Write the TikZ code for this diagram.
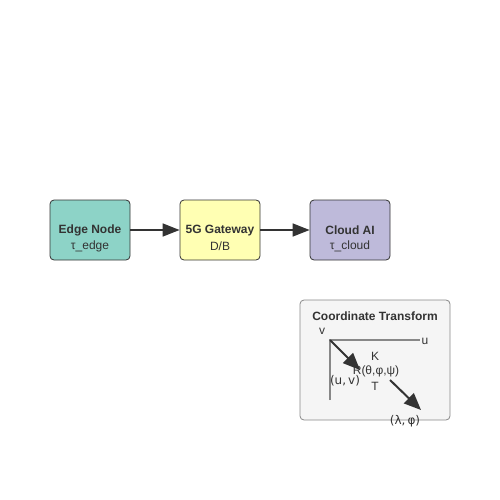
\documentclass[tikz,border=0pt]{standalone}
\usepackage{fontspec}
\setmainfont{Liberation Sans}
\newfontfamily\djv{DejaVu Sans}
\usetikzlibrary{arrows.meta}
\definecolor{txt}{HTML}{333333}
\definecolor{cA}{HTML}{8DD3C7}
\definecolor{cB}{HTML}{FFFFB3}
\definecolor{cC}{HTML}{BEBADA}
\definecolor{panel}{HTML}{F5F5F5}
\definecolor{axis}{HTML}{888888}
\begin{document}
\begin{tikzpicture}[x=1pt,y=-1pt,
  blk/.style={draw=txt, line width=0.8pt, rounded corners=4pt, minimum width=80pt, minimum height=60pt, inner sep=0pt},
  flow/.style={draw=txt, line width=1.6pt, -{Triangle[length=17pt,width=13pt]}},
  tarrow/.style={draw=txt, line width=2pt, -{Triangle[length=17pt,width=14pt]}},
  lbl/.style={text=txt, inner sep=0pt, font=\fontsize{12}{14}\selectfont},
  blbl/.style={lbl, font=\bfseries\fontsize{12}{14}\selectfont}]
\useasboundingbox (0,0) rectangle (500,500);
\node[blk, fill=cA] (edge) at (90,230) {};
\node[blk, fill=cB] (gw) at (220,230) {};
\node[blk, fill=cC] (cloud) at (350,230) {};
\node[blbl] (edgeT) at (90,230.5) {Edge Node};
\node[lbl] (edgeS) at (90,246) {τ\_edge};
\node[blbl] (gwT) at (220,230.5) {5G Gateway};
\node[lbl] (gwS) at (220,246) {D/B};
\node[blbl] (cloudT) at (350,230.5) {Cloud AI};
\node[lbl] (cloudS) at (350,246) {τ\_cloud};
\draw[flow] (edge.east) -- (gw.west);
\draw[flow] (gw.east) -- (cloud.west);
% coordinate transform panel
\node[draw=axis, line width=0.8pt, fill=panel, rounded corners=4pt, minimum width=150pt, minimum height=120pt, inner sep=0pt] (panel) at (375,360) {};
\node[blbl] (title) at (375,316) {Coordinate Transform};
\coordinate (o) at (330,340);
\coordinate (ybot) at (330,400);
\coordinate (xend) at (420,340);
\draw[axis, line width=1.6pt] (ybot) -- (o) -- (xend);
\node[lbl] (v) at (322,331) {v};
\node[lbl] (u) at (425,341) {u};
\node[lbl] (K) at (375,356) {K};
\node[lbl] (R) at (376,371) {R(θ,φ,ψ)};
\node[lbl, font=\djv\fontsize{12}{14}\selectfont] (uv) at (345,381) {(u,\,v)};
\node[lbl] (T) at (375,386) {T};
\node[lbl, font=\djv\fontsize{12}{14}\selectfont] (lp) at (405,421.5) {(λ,\,φ)};
\coordinate (a1) at (360,370);
\coordinate (b0) at (390,380);
\coordinate (b1) at (421,410);
\draw[tarrow] (o) -- (a1);
\draw[tarrow] (b0) -- (b1);
\end{tikzpicture}
\end{document}
